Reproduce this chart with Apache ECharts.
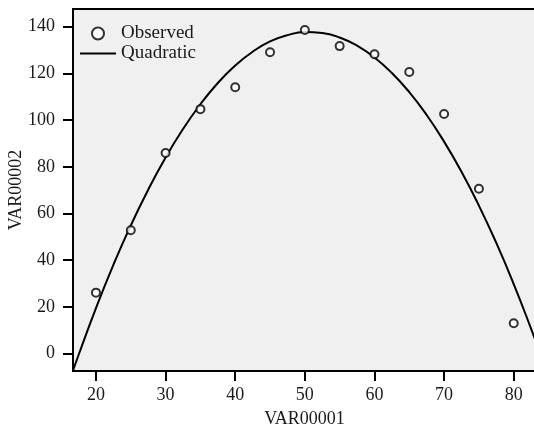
<!DOCTYPE html>
<html>
<head>
<meta charset="utf-8">
<script src="https://cdn.jsdelivr.net/npm/echarts@6/dist/echarts.min.js"></script>
<style>html,body{margin:0;padding:0;background:#fff}#c{width:534px;height:427px}</style>
</head>
<body>
<div id="c"></div>
<script>
var obsX = [20, 25, 30, 35, 40, 45, 50, 55, 60, 65, 70, 75, 80];
var obsY = [26.1, 52.8, 85.9, 104.7, 114.1, 129.1, 138.6, 131.7, 128.2, 120.6, 102.6, 70.6, 13.0];
// Quadratic curve samples
var curveX = [16.5, 17.5, 20, 22.5, 25, 27.5, 30, 32.5, 35, 37.5, 40, 42.5, 45, 47.5, 50, 52.5, 55, 57.5, 60, 62.5, 65, 67.5, 70, 72.5, 75, 77.5, 80, 82.5, 83.5];
var curveY = [-9.0, -0.6, 19.5, 38.0, 54.9, 70.2, 84.0, 96.2, 106.8, 115.9, 123.4, 129.3, 133.7, 136.4, 137.7, 137.3, 135.4, 131.9, 126.8, 120.2, 112.0, 102.2, 90.8, 77.9, 63.4, 47.4, 29.8, 10.6, 2.4];
var xTicks = [20, 30, 40, 50, 60, 70, 80];
var yTicks = [0, 20, 40, 60, 80, 100, 120, 140];
var xName = 'VAR00001';
var yName = 'VAR00002';
var seriesNames = ['Observed', 'Quadratic'];

function zip(a, b) { return a.map(function (v, i) { return [v, b[i]]; }); }

var font = 'Liberation Serif';
var txt = '#1a1a1a';
var chart = echarts.init(document.getElementById('c'));
chart.setOption({
  animation: false,
  backgroundColor: '#ffffff',
  grid: {
    left: 73, top: 9, right: -2, bottom: 56,
    outerBoundsMode: 'none', containLabel: false,
    show: true, backgroundColor: '#f0f0f0', borderColor: '#000', borderWidth: 2
  },
  legend: {
    orient: 'vertical', left: 80, top: 24, padding: 0,
    itemWidth: 36, itemHeight: 12, itemGap: 1,
    textStyle: { fontFamily: font, fontSize: 19, color: txt },
    data: [
      { name: seriesNames[0], icon: 'emptyCircle', itemStyle: { color: '#000', borderColor: '#000', borderWidth: 2 } },
      { name: seriesNames[1], icon: 'path://M0,0H36V2H0Z', itemStyle: { color: '#000' } }
    ]
  },
  xAxis: {
    type: 'value', min: 16.7, max: 83.2,
    name: xName, nameLocation: 'middle', nameGap: 39, nameMoveOverlap: false,
    nameTextStyle: { fontFamily: font, fontSize: 18, color: txt },
    axisLine: { show: true, onZero: false, lineStyle: { color: '#000', width: 2 } },
    axisTick: { show: true, length: 10, lineStyle: { color: '#000', width: 2 }, customValues: xTicks },
    axisLabel: { fontFamily: font, fontSize: 18, color: txt, margin: 15, customValues: xTicks },
    splitLine: { show: false }
  },
  yAxis: {
    type: 'value', min: -7.46, max: 147.6,
    name: yName, nameLocation: 'middle', nameGap: 48, nameMoveOverlap: false,
    nameTextStyle: { fontFamily: font, fontSize: 18, color: txt },
    axisLine: { show: true, onZero: false, lineStyle: { color: '#000', width: 2 } },
    axisTick: { show: true, length: 10, lineStyle: { color: '#000', width: 2 }, customValues: yTicks },
    axisLabel: { fontFamily: font, fontSize: 18, color: txt, margin: 18, customValues: yTicks },
    splitLine: { show: false }
  },
  series: [
    {
      name: seriesNames[0], type: 'scatter', data: zip(obsX, obsY),
      symbol: 'emptyCircle', symbolSize: 8,
      itemStyle: { color: '#000', borderColor: '#000', borderWidth: 2 }, z: 3
    },
    {
      name: seriesNames[1], type: 'line', data: zip(curveX, curveY),
      smooth: true, showSymbol: false, symbol: 'none', clip: true,
      lineStyle: { color: '#000', width: 2 }, itemStyle: { color: '#000' }, z: 2
    }
  ]
});
</script>
</body>
</html>
